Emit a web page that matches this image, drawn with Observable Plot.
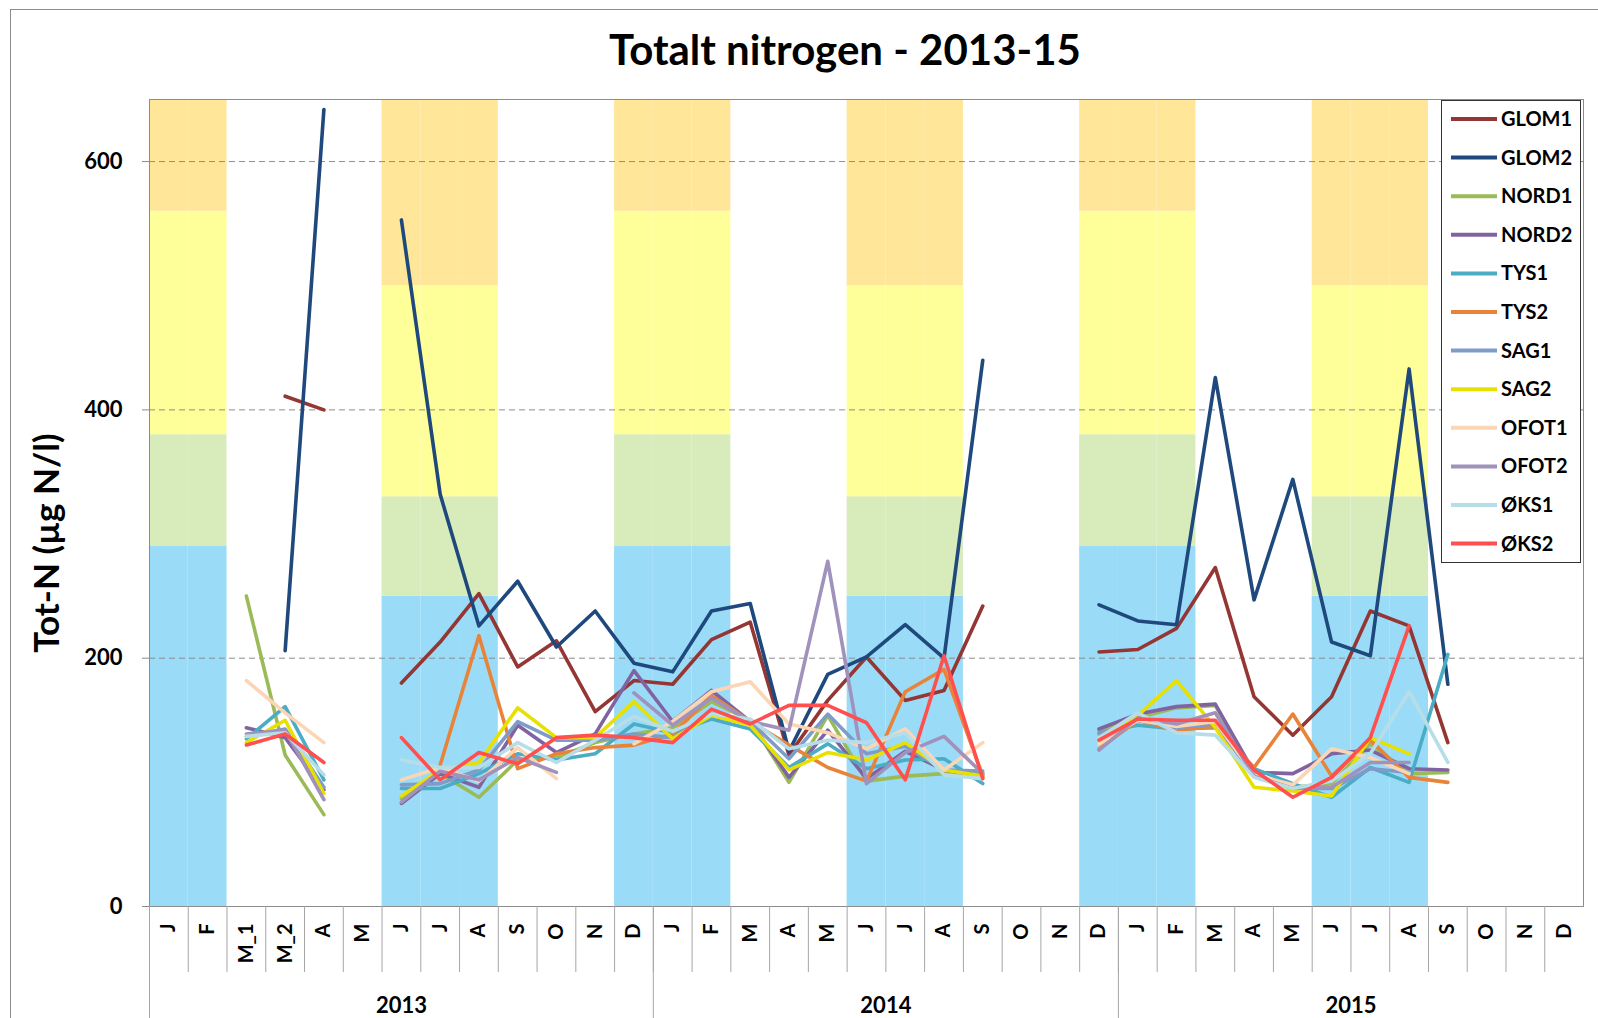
<!DOCTYPE html>
<html><head><meta charset="utf-8">
<script src="https://cdn.jsdelivr.net/npm/d3@7"></script>
<script src="https://cdn.jsdelivr.net/npm/@observablehq/plot@0.6"></script>
<style>
body{margin:0;background:#fff;font-family:Lato, "Open Sans", sans-serif;}
#wrap{position:relative;width:1598px;height:1018px;overflow:hidden;background:#fff;}
#border{position:absolute;left:10px;top:9px;width:1700px;height:1100px;border:1px solid #8c8c8c;}
#title{position:absolute;left:495px;width:700px;top:28px;text-align:center;font-weight:bold;font-size:42px;line-height:42px;color:#000;}
#chart{position:absolute;left:0;top:90px;}
#legend{position:absolute;left:1441px;top:100px;width:140px;height:463px;border:1px solid #333;background:#fff;box-sizing:border-box;}
</style>
</head><body>
<div id="wrap">
  <div id="border"></div>
  <div id="title">Totalt nitrogen - 2013-15</div>
  <div id="chart"></div>
  <div id="legend"></div>
</div>
<script>
// ---------- data ----------
const months = ["J","F","M_1","M_2","A","M","J","J","A","S","O","N","D",
                "J","F","M","A","M","J","J","A","S","O","N","D",
                "J","F","M","A","M","J","J","A","S","O","N","D"];
const yearLabels = ["2013","2014","2015"];
const yearFirst = [0,13,25];
const yearLast  = [12,24,36];
const winterIdx = [0,1,12,13,14,24,25,26];
const summerIdx = [6,7,8,18,19,20,30,31,32];
const winterLimits = [0,290,380,560,650];
const summerLimits = [0,250,330,500,650];
const bandColors = ["#9adcf7","#d7ebbb","#ffff99","#ffe699"];
const yTicks = [0,200,400,600];
const yTitle = "Tot-N (µg N/l)";

const seriesNames = ["GLOM1","GLOM2","NORD1","NORD2","TYS1","TYS2","SAG1","SAG2","OFOT1","OFOT2","ØKS1","ØKS2"];
const seriesColors = ["#943634","#1f497d","#9bbb59","#8064a2","#4bacc6","#e8843a","#7f9cc9","#e8e000","#fcd5b5","#a092bc","#b7dee8","#ff4f4f"];

const GLOM1 = [null,null,null,411,400,null,180,213,252,193,214,157,182,179,215,229,122,166,201,166,174,242,null,null,205,207,224,273,169,138,169,238,226,132,null,null,null];
const GLOM2 = [null,null,null,206,642,null,553,332,226,262,209,238,196,189,238,244,125,187,201,227,200,440,null,null,243,230,227,426,247,344,213,202,433,179,null,null,null];
const NORD1 = [null,null,250,122,74,null,87,107,88,118,120,132,139,144,165,150,100,154,101,105,107,107,null,null,142,152,160,162,105,96,99,131,107,108,null,null,null];
const NORD2 = [null,null,144,136,94,null,83,107,96,146,124,139,190,149,174,149,104,142,103,125,110,105,null,null,143,155,161,163,108,107,123,126,111,110,null,null,null];
const TYS1  = [null,null,135,161,102,null,95,95,107,123,118,123,147,140,151,143,112,131,111,118,119,99,null,null,140,146,143,144,111,99,88,112,100,203,null,null,null];
const TYS2  = [null,null,null,null,null,null,null,114,218,111,123,128,130,139,170,149,130,112,101,173,191,105,null,null,127,150,142,145,112,155,105,134,104,100,null,null,null];
const SAG1  = [null,null,137,143,96,null,98,99,110,149,134,134,139,136,155,149,119,155,123,129,110,109,null,null,139,150,144,147,105,95,95,111,108,null,null,null,null];
const SAG2  = [null,null,132,150,91,null,89,110,116,160,136,136,165,135,154,146,110,124,118,132,110,105,null,null,132,154,182,144,96,93,89,136,123,null,null,null,null];
const OFOT1 = [null,null,182,156,132,null,102,112,101,128,103,null,131,149,173,181,147,140,127,143,110,132,null,null,131,150,145,149,106,98,127,120,107,null,null,null,null];
const OFOT2 = [null,null,139,142,86,null,84,109,102,120,108,null,172,146,168,149,142,278,99,124,137,107,null,null,126,152,147,156,105,95,96,116,116,null,null,null,null];
const OKS1  = [null,null,137,140,106,null,118,112,112,132,116,134,153,141,155,151,127,134,132,140,106,103,null,null,136,156,140,138,104,95,101,123,173,116,null,null,null];
const OKS2  = [null,null,130,139,116,null,136,102,124,115,136,138,136,132,159,147,162,162,148,102,202,103,null,null,134,151,150,150,110,88,104,136,226,null,null,null,null];
const seriesValues = [GLOM1,GLOM2,NORD1,NORD2,TYS1,TYS2,SAG1,SAG2,OFOT1,OFOT2,OKS1,OKS2];

// ---------- derived tables ----------
const bandRows = [];
for (const [idx, lim] of [[winterIdx, winterLimits],[summerIdx, summerLimits]]) {
  for (const i of idx) for (let k = 0; k < 4; k++) bandRows.push({i, lo: lim[k], hi: lim[k+1], color: bandColors[k]});
}
const monthRows = months.map((m, i) => ({i, m}));
const yearRows = yearLabels.map((y, k) => ({y, mid: (yearFirst[k] + yearLast[k]) / 2}));
const monthBounds = d3.range(-0.5, months.length - 1, 1);
const yearBounds = yearFirst.map(f => f - 0.5);

const FRAME_H = 807;
const marks = [
  Plot.rectY(bandRows, {x1: d => d.i - 0.5, x2: d => d.i + 0.5, y1: "lo", y2: "hi", fill: "color"}),
  Plot.ruleY(yTicks.filter(t => t > 0), {stroke: "#8c8c8c", strokeDasharray: "6,4", strokeWidth: 1}),
  Plot.frame({stroke: "#8c8c8c"}),
  Plot.axisY({ticks: yTicks, tickSize: 7, tickPadding: 20, stroke: "#8c8c8c", fontSize: 22, fontWeight: "bold"}),
  Plot.ruleX(monthBounds, {x: d => d, stroke: "#a6a6a6", insetTop: FRAME_H, insetBottom: -66}),
  Plot.ruleX(yearBounds, {x: d => d, stroke: "#a6a6a6", insetTop: FRAME_H, insetBottom: -112}),
  Plot.text(monthRows, {x: "i", text: "m", frameAnchor: "bottom", rotate: -90, textAnchor: "end", lineAnchor: "middle", dy: 17, fontSize: 20, fontWeight: "bold", fill: "#000"}),
  Plot.text(yearRows, {x: "mid", text: "y", frameAnchor: "bottom", lineAnchor: "middle", dy: 99, fontSize: 22, fontWeight: "bold", fill: "#000"}),
  Plot.text([yTitle], {text: d => d, frameAnchor: "left", rotate: -90, textAnchor: "middle", dx: -102, dy: 40, fontSize: 35, fontWeight: "bold", fill: "#000", lineAnchor: "middle"})
];
seriesNames.forEach((name, s) => {
  const rows = seriesValues[s].map((v, i) => ({i, v}));
  marks.push(Plot.line(rows, {x: "i", y: "v", stroke: seriesColors[s], strokeWidth: 3.6, strokeLinejoin: "round", strokeLinecap: "round"}));
});

const chart = Plot.plot({
  width: 1598, height: 928,
  marginLeft: 149, marginRight: 15, marginTop: 9, marginBottom: 112,
  x: {type: "linear", domain: [-0.5, months.length - 0.5], axis: null},
  y: {domain: [0, 650], axis: null},
  color: {type: "identity"},
  style: {fontFamily: "Lato, 'Open Sans', sans-serif", background: "transparent", overflow: "visible"},
  marks
});
document.getElementById("chart").appendChild(chart);

// ---------- legend ----------
const lg = d3.select("#legend").append("svg").attr("width", 138).attr("height", 461)
  .style("font-family", "Lato, 'Open Sans', sans-serif");
seriesNames.forEach((name, s) => {
  const y = 18 + s * 38.6;
  lg.append("line").attr("x1", 9).attr("x2", 55).attr("y1", y).attr("y2", y)
    .attr("stroke", seriesColors[s]).attr("stroke-width", 4);
  lg.append("text").attr("x", 59).attr("y", y).attr("dy", "0.35em")
    .attr("font-size", 20).attr("font-weight", "bold").text(name);
});
</script>
</body></html>
